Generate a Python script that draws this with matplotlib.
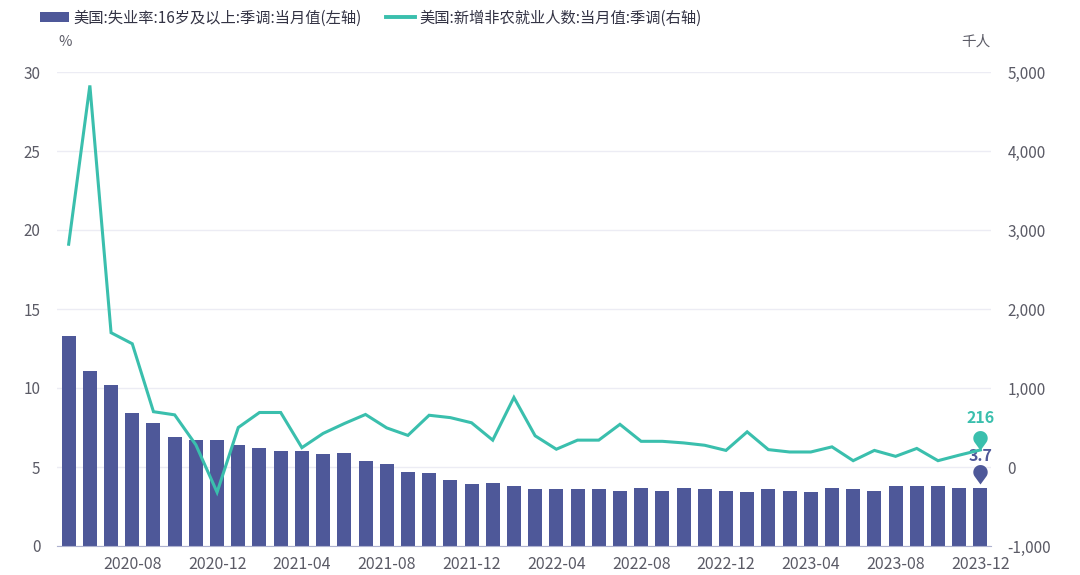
import numpy as np
import matplotlib
matplotlib.use("Agg")
import matplotlib.pyplot as plt
from matplotlib.patches import Patch
from matplotlib.lines import Line2D

plt.rcParams['font.family'] = ['Noto Sans CJK SC', 'DejaVu Sans']

months = [f"{y}-{m:02d}" for y in range(2020, 2024) for m in range(1, 13)][4:]  # 2020-05 .. 2023-12

unemp = [13.3, 11.1, 10.2, 8.4, 7.8, 6.9, 6.7, 6.7,
         6.4, 6.2, 6.0, 6.0, 5.8, 5.9, 5.4, 5.2, 4.7, 4.6, 4.2, 3.9,
         4.0, 3.8, 3.6, 3.6, 3.6, 3.6, 3.5, 3.7, 3.5, 3.7, 3.6, 3.5,
         3.4, 3.6, 3.5, 3.4, 3.7, 3.6, 3.5, 3.8, 3.8, 3.8, 3.7, 3.7]

nfp = [2820, 4830, 1700, 1560, 700, 660, 280, -320,
       500, 690, 690, 245, 425, 550, 665, 495, 400, 655, 625, 560,
       340, 880, 395, 225, 340, 340, 540, 325, 325, 305, 275, 210,
       445, 220, 190, 190, 255, 80, 210, 135, 235, 80, 150, 216]

bar_label = "美国:失业率:16岁及以上:季调:当月值(左轴)"
line_label = "美国:新增非农就业人数:当月值:季调(右轴)"

BAR_C = "#4E5899"
LINE_C = "#3ABFAD"
TXT_C = "#5B5B66"
GRID_C = "#ECECF4"

fig = plt.figure(figsize=(10.8, 5.75), dpi=100)
ax = fig.add_axes([57/1080, 1-546/575, (991-57)/1080, (546-72)/575])
ax2 = ax.twinx()

x = np.arange(len(months))
ax.bar(x, unemp, width=0.66, color=BAR_C, zorder=2)
ax2.plot(x, nfp, color=LINE_C, lw=2.2, zorder=3, solid_joinstyle='miter')

ax.set_xlim(-0.55, len(months) - 0.5)
ax.set_ylim(0, 30)
ax.set_yticks(np.arange(0, 31, 5))
ax2.set_ylim(-1000, 5000)
ax2.set_yticks(np.arange(-1000, 5001, 1000))
ax2.set_yticklabels([f"{v:,}" for v in range(-1000, 5001, 1000)])

xt = list(range(3, len(months), 4))
ax.set_xticks(xt)
ax.set_xticklabels([months[i] for i in xt])

ax.set_axisbelow(True)
ax.grid(axis='y', color=GRID_C, lw=1)
for a in (ax, ax2):
    for s in ('top', 'left', 'right', 'bottom'):
        a.spines[s].set_visible(False)
ax.spines['bottom'].set_visible(True)
ax.spines['bottom'].set_color("#AEB2CF")
ax.tick_params(axis='x', length=0, pad=7, labelsize=11.5, labelcolor=TXT_C)
ax.tick_params(axis='y', length=0, pad=12, labelsize=11, labelcolor=TXT_C)
ax2.tick_params(axis='y', length=0, pad=12, labelsize=11, labelcolor=TXT_C)

# pin markers
c = 1.7
r = 1.0
beta = np.arccos(r / c)
ang = np.linspace(-np.pi/2 + beta, 3*np.pi/2 - beta, 40)
pin = np.vstack([[0, 0], np.column_stack([r*np.cos(ang), c + r*np.sin(ang)]), [0, 0]])

i = len(months) - 1
ax2.plot([x[i]], [nfp[i]], marker=pin, ms=28, color=LINE_C, mew=0, zorder=5, clip_on=False)
ax.plot([x[i]], [unemp[i] + 0.2], marker=pin, ms=28, color=BAR_C, mew=0, zorder=5, clip_on=False)
ax2.annotate(f"{nfp[i]}", (x[i], nfp[i]), xytext=(0, 23), textcoords='offset points',
             ha='center', va='center', color=LINE_C, fontsize=11.5, fontweight='bold', zorder=6)
ax.annotate(f"{unemp[i]}", (x[i], unemp[i]), xytext=(0, 23), textcoords='offset points',
            ha='center', va='center', color=BAR_C, fontsize=11.5, fontweight='bold', zorder=6)

# axis unit labels
fig.text(58/1080, 1-42/575, "%", color=TXT_C, fontsize=10.5, va='center', ha='left')
fig.text(990/1080, 1-42/575, "千人", color=TXT_C, fontsize=10.5, va='center', ha='right')

handles = [Patch(facecolor=BAR_C, edgecolor='none'),
           Line2D([0], [0], color=LINE_C, lw=2.8)]
fig.legend(handles, [bar_label, line_label], loc='center left',
           bbox_to_anchor=(26/1080, 1-18/575), ncol=2, frameon=False,
           fontsize=11, handlelength=1.9, handleheight=0.55, handletextpad=0.3,
           columnspacing=1.6, labelcolor="#333344")

fig.savefig("out.png", dpi=100)
